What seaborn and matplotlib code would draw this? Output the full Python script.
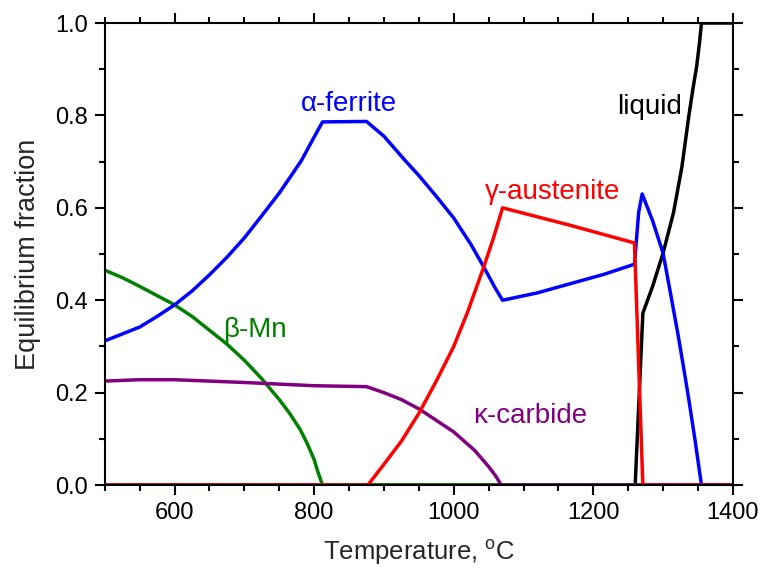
import numpy as np
import pandas as pd
import matplotlib
matplotlib.use("Agg")
import matplotlib.pyplot as plt
from matplotlib.ticker import MultipleLocator
import seaborn as sns

# phase fractions
ferrite_T = [500, 525, 550, 575, 600, 625, 650, 675, 700, 725, 750, 765, 782, 797, 812,
             875, 900, 930, 950, 975, 1000, 1025, 1043, 1060, 1070,
             1120, 1165, 1215, 1259, 1265, 1270, 1285, 1300, 1310, 1321, 1329, 1337, 1346, 1355, 1400]
ferrite_f = [0.312, 0.327, 0.342, 0.365, 0.39, 0.42, 0.455, 0.493, 0.535, 0.583, 0.632, 0.665, 0.703, 0.745, 0.786,
             0.787, 0.755, 0.703, 0.67, 0.625, 0.578, 0.52, 0.472, 0.425, 0.40,
             0.416, 0.435, 0.456, 0.478, 0.59, 0.63, 0.572, 0.502, 0.42, 0.329, 0.258, 0.184, 0.095, 0.0, 0.0]

austenite_T = [500, 877, 900, 925, 950, 975, 1000, 1020, 1043, 1057, 1070, 1165, 1259, 1271, 1400]
austenite_f = [0.0, 0.0, 0.045, 0.095, 0.155, 0.225, 0.30, 0.375, 0.472, 0.535, 0.60, 0.563, 0.524, 0.0, 0.0]

liquid_T = [500, 1260, 1271, 1285, 1300, 1315, 1327, 1337, 1343, 1348, 1352, 1355, 1400]
liquid_f = [0.0, 0.0, 0.372, 0.43, 0.502, 0.59, 0.689, 0.80, 0.86, 0.905, 0.955, 1.0, 1.0]

mn_T = [500, 525, 550, 575, 600, 625, 650, 675, 700, 725, 750, 765, 780, 790, 800, 805, 812, 1400]
mn_f = [0.465, 0.449, 0.43, 0.41, 0.39, 0.365, 0.335, 0.305, 0.27, 0.23, 0.185, 0.155, 0.12, 0.09, 0.055, 0.03, 0.0, 0.0]

carbide_T = [500, 550, 600, 700, 800, 875, 900, 925, 950, 975, 1000, 1015, 1030, 1050, 1060, 1068, 1400]
carbide_f = [0.225, 0.228, 0.228, 0.222, 0.215, 0.213, 0.20, 0.185, 0.165, 0.14, 0.115, 0.095, 0.075, 0.04, 0.02, 0.0, 0.0]

phases = ["liquid", "beta-Mn", "kappa-carbide", "alpha-ferrite", "gamma-austenite"]
colors = {"liquid": "black", "beta-Mn": "#008000", "kappa-carbide": "#800080",
          "alpha-ferrite": "#0000ff", "gamma-austenite": "#ff0000"}


def build_df():
    parts = [
        pd.DataFrame({"T": liquid_T, "f": liquid_f, "phase": "liquid"}),
        pd.DataFrame({"T": mn_T, "f": mn_f, "phase": "beta-Mn"}),
        pd.DataFrame({"T": carbide_T, "f": carbide_f, "phase": "kappa-carbide"}),
        pd.DataFrame({"T": ferrite_T, "f": ferrite_f, "phase": "alpha-ferrite"}),
        pd.DataFrame({"T": austenite_T, "f": austenite_f, "phase": "gamma-austenite"}),
    ]
    return pd.concat(parts, ignore_index=True)


def main():
    sns.set_style("ticks")
    plt.rcParams["font.family"] = ["Liberation Sans", "DejaVu Sans"]
    plt.rcParams["mathtext.fontset"] = "custom"
    plt.rcParams["mathtext.rm"] = "Liberation Sans"

    df = build_df()
    fig = plt.figure(figsize=(7.65, 5.83), dpi=100)
    ax = fig.add_axes([0.137, 0.168, 0.821, 0.7925])
    sns.lineplot(data=df, x="T", y="f", hue="phase", hue_order=phases,
                 palette=colors, estimator=None, sort=False, linewidth=2.5,
                 legend=False, ax=ax)

    ax.set_xlim(500, 1400)
    ax.set_ylim(0, 1)
    ax.xaxis.set_major_locator(MultipleLocator(200))
    ax.xaxis.set_minor_locator(MultipleLocator(50))
    ax.yaxis.set_major_locator(MultipleLocator(0.2))
    ax.yaxis.set_minor_locator(MultipleLocator(0.1))
    ax.yaxis.set_major_formatter(plt.FormatStrFormatter("%.1f"))
    ax.tick_params(which="both", direction="out", top=True, right=True, width=1.5,
                   labelsize=17, colors="black")
    ax.tick_params(which="major", length=7, pad=5)
    ax.tick_params(which="minor", length=4.5)
    for s in ax.spines.values():
        s.set_linewidth(1.5)
        s.set_color("black")

    ax.set_xlabel("Temperature, $^{\\mathrm{o}}$C", fontsize=18.5, labelpad=10)
    ax.set_ylabel("Equilibrium fraction", fontsize=19.5, labelpad=10)

    ax.text(850, 0.825, "\u03b1-ferrite", color="#0000ff", fontsize=20, ha="center", va="center")
    ax.text(1142, 0.634, "\u03b3-austenite", color="#ff0000", fontsize=20, ha="center", va="center")
    ax.text(1281, 0.818, "liquid", color="black", fontsize=20, ha="center", va="center")
    ax.text(715, 0.335, "\u03b2-Mn", color="#008000", fontsize=20, ha="center", va="center")
    ax.text(1109, 0.15, "\u03ba-carbide", color="#800080", fontsize=20, ha="center", va="center")

    fig.savefig("out.png", dpi=100)


if __name__ == "__main__":
    main()
